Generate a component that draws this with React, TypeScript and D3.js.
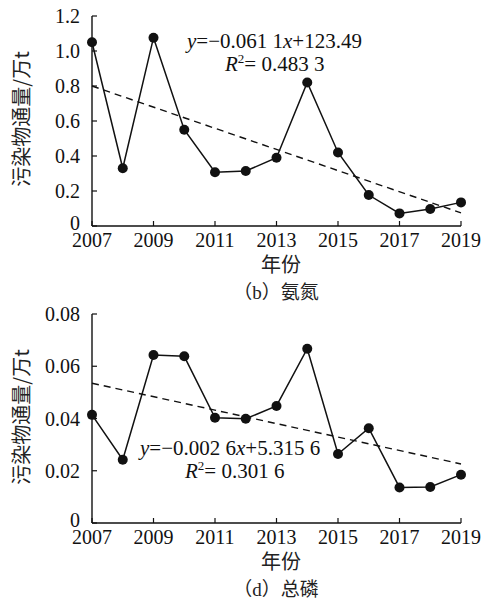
import { scaleLinear, line } from "d3";

const years = [2007, 2008, 2009, 2010, 2011, 2012, 2013, 2014, 2015, 2016, 2017, 2018, 2019];
const yearTicks = [2007, 2009, 2011, 2013, 2015, 2017, 2019];

// (b) 氨氮
const ammoniaValues = [1.05, 0.33, 1.076, 0.55, 0.307, 0.314, 0.39, 0.82, 0.42, 0.177, 0.072, 0.097, 0.135];
const ammoniaTrend = [0.8, 0.075];
const ammoniaTicks = [0, 0.2, 0.4, 0.6, 0.8, 1.0, 1.2];

// (d) 总磷
const phosphorusValues = [0.0414, 0.0242, 0.0643, 0.0638, 0.0403, 0.0399, 0.0448, 0.0667, 0.0264, 0.0363, 0.0136, 0.0138, 0.0185];
const phosphorusTrend = [0.0535, 0.0226];
const phosphorusTicks = [0, 0.02, 0.04, 0.06, 0.08];

const SERIF = "Liberation Serif, Tinos, serif";
const CJK = "Noto Sans CJK SC, sans-serif";

type PanelProps = {
  top: number;
  bottom: number;
  values: number[];
  trend: number[];
  ticks: number[];
  digits: number;
  eq: [string, string];
  r2: string;
  eqPos: [number, number];
  r2Pos: [number, number];
  ylabelY: number;
  caption: [string, string];
};

function Panel(p: PanelProps) {
  const x = scaleLinear().domain([2007, 2019]).range([92, 461]);
  const y = scaleLinear().domain([0, p.ticks[p.ticks.length - 1]]).range([p.bottom, p.top]);
  const path = line<number>()
    .x((_, i) => x(years[i]))
    .y((d) => y(d));
  const trendPath = line<number>()
    .x((_, i) => x(i === 0 ? 2007 : 2019))
    .y((d) => y(d));
  const fmt = (v: number) => (v === 0 ? "0" : v.toFixed(p.digits));

  return (
    <g>
      {/* axes */}
      <line x1={x(2007)} x2={x(2007)} y1={p.top} y2={p.bottom} stroke="#111" strokeWidth={1.4} />
      <line x1={x(2007)} x2={x(2019)} y1={p.bottom} y2={p.bottom} stroke="#111" strokeWidth={1.4} />
      {p.ticks.map((t) => (
        <g key={t}>
          <line x1={x(2007)} x2={x(2007) + 5} y1={y(t)} y2={y(t)} stroke="#111" strokeWidth={1.2} />
          <text x={80} y={y(t) + (t === 0 ? 4 : 7)} textAnchor="end" fontSize={20} fontFamily={SERIF} fill="#111">
            {fmt(t)}
          </text>
        </g>
      ))}
      {yearTicks.map((yr) => (
        <g key={yr}>
          <line x1={x(yr)} x2={x(yr)} y1={p.bottom} y2={p.bottom - 5} stroke="#111" strokeWidth={1.2} />
          <text x={x(yr)} y={p.bottom + 21} textAnchor="middle" fontSize={20} fontFamily={SERIF} fill="#111">
            {yr}
          </text>
        </g>
      ))}

      {/* trend */}
      <path d={trendPath(p.trend) ?? ""} fill="none" stroke="#111" strokeWidth={1.4} strokeDasharray="7,5" />
      {/* series */}
      <path d={path(p.values) ?? ""} fill="none" stroke="#111" strokeWidth={1.5} />
      {p.values.map((v, i) => (
        <circle key={i} cx={x(years[i])} cy={y(v)} r={5} fill="#111" />
      ))}

      {/* equation */}
      <text x={p.eqPos[0]} y={p.eqPos[1]} fontSize={21} fontFamily={SERIF} fill="#111">
        <tspan fontStyle="italic">y</tspan>
        {p.eq[0]}
        <tspan fontStyle="italic">x</tspan>
        {p.eq[1]}
      </text>
      <text x={p.r2Pos[0]} y={p.r2Pos[1]} fontSize={21} fontFamily={SERIF} fill="#111">
        <tspan fontStyle="italic">R</tspan>
        <tspan fontSize={13} dy={-8}>2</tspan>
        <tspan dy={8}>{p.r2}</tspan>
      </text>

      {/* labels */}
      <text
        transform={`translate(29,${p.ylabelY}) rotate(-90)`}
        textAnchor="middle"
        fontSize={20}
        fontFamily={CJK}
        fill="#222"
      >
        污染物通量/万t
      </text>
      <text x={281} y={p.bottom + 46} textAnchor="middle" fontSize={20} fontFamily={CJK} fill="#222">
        年份
      </text>
      <text x={276} y={p.bottom + 73} textAnchor="middle" fontSize={19} fill="#222">
        <tspan fontFamily={CJK}>（</tspan>
        <tspan fontFamily={SERIF}>{p.caption[0]}</tspan>
        <tspan fontFamily={CJK}>）{p.caption[1]}</tspan>
      </text>
    </g>
  );
}

export default function App() {
  return (
    <>
      <style>{`body{margin:0;background:#fff}`}</style>
      <svg width={495} height={602} viewBox="0 0 495 602" style={{ display: "block", background: "#fff" }}>
        <Panel
          top={16}
          bottom={226}
          values={ammoniaValues}
          trend={ammoniaTrend}
          ticks={ammoniaTicks}
          digits={1}
          eq={["=−0.061 1", "+123.49"]}
          r2="= 0.483 3"
          eqPos={[187, 48]}
          r2Pos={[225, 71]}
          ylabelY={119}
          caption={["b", "氨氮"]}
        />
        <Panel
          top={314}
          bottom={523}
          values={phosphorusValues}
          trend={phosphorusTrend}
          ticks={phosphorusTicks}
          digits={2}
          eq={["=−0.002 6", "+5.315 6"]}
          r2="= 0.301 6"
          eqPos={[140, 455]}
          r2Pos={[185, 478]}
          ylabelY={417}
          caption={["d", "总磷"]}
        />
      </svg>
    </>
  );
}
